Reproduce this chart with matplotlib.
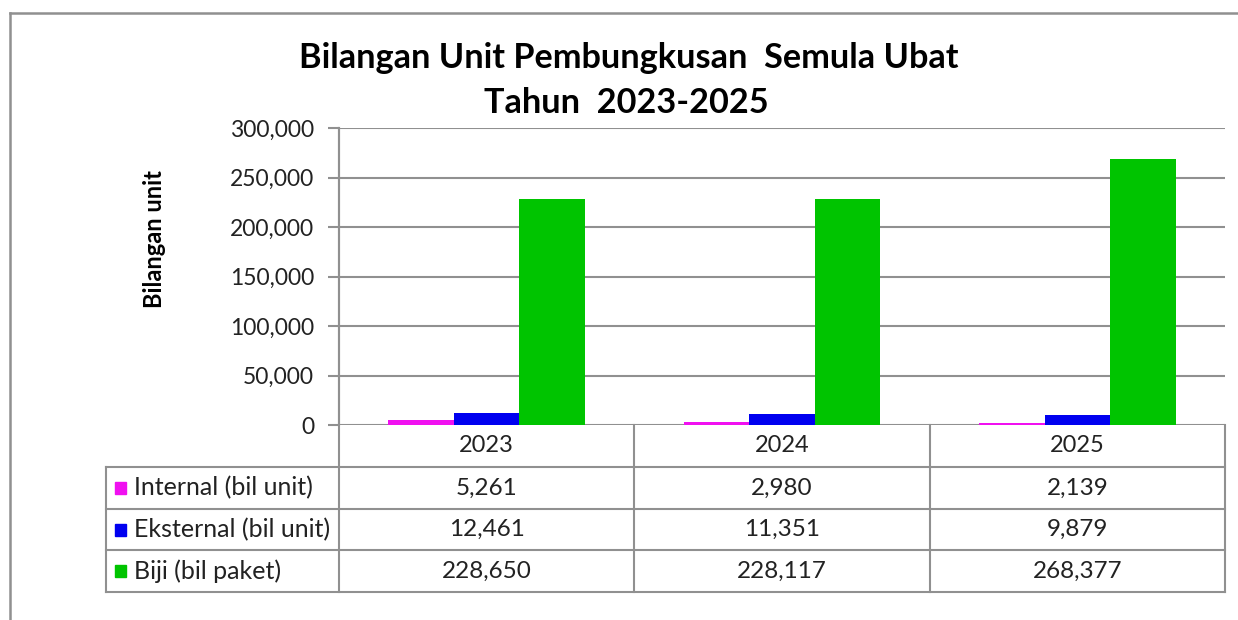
import numpy as np
import matplotlib.pyplot as plt
from matplotlib.transforms import blended_transform_factory

years = ["2023", "2024", "2025"]
series = ["Internal (bil unit)", "Eksternal (bil unit)", "Biji (bil paket)"]
internal = [5261, 2980, 2139]
eksternal = [12461, 11351, 9879]
biji = [228650, 228117, 268377]
colors = ["#f010f0", "#0000f0", "#00c400"]
yticks = [0, 50000, 100000, 150000, 200000, 250000, 300000]

plt.rcParams["font.family"] = ["Lato", "DejaVu Sans"]
W, H = 1238, 620
fig = plt.figure(figsize=(W / 100, H / 100), dpi=100)

# background layer in pixel coords (frame + table)
bg = fig.add_axes([0, 0, 1, 1])
bg.set_xlim(0, W)
bg.set_ylim(H, 0)
bg.axis("off")

gray = "#909090"
bg.plot([10, W], [13, 13], color=gray, lw=1.8)
bg.plot([10, 10], [13, H], color=gray, lw=1.8)

# plot area
x0, x1, ytop, ybot = 339, 1225, 128, 425
ax = fig.add_axes([x0 / W, 1 - ybot / H, (x1 - x0) / W, (ybot - ytop) / H])
ax.patch.set_alpha(0)

x = np.arange(len(years))
w = 0.222
for i, vals in enumerate([internal, eksternal, biji]):
    ax.bar(x + (i - 1) * w, vals, width=w, color=colors[i], zorder=3)

ax.set_xlim(-0.5, len(years) - 0.5)
ax.set_ylim(0, 300000)
ax.set_yticks(yticks)
ax.set_yticklabels([f"{v:,}" for v in yticks], fontsize=16.5, color="#222222")
ax.set_xticks([])
ax.grid(axis="y", color=gray, lw=1.5, zorder=0)
for s in ["top", "right", "bottom"]:
    ax.spines[s].set_visible(False)
ax.spines["left"].set_color(gray)
ax.spines["left"].set_linewidth(1.5)
ax.tick_params(axis="y", length=8, width=1.5, color=gray, pad=10)

fig.text(155 / W, 1 - 239 / H, "Bilangan unit", rotation=90, fontsize=17,
         fontweight="bold", ha="center", va="center")
fig.text(629 / W, 1 - 58 / H, "Bilangan Unit Pembungkusan  Semula Ubat",
         fontsize=24.7, fontweight="bold", ha="center", va="center")
fig.text(626 / W, 1 - 103 / H, "Tahun  2023-2025",
         fontsize=24.7, fontweight="bold", ha="center", va="center")

# data table under the chart
tr = blended_transform_factory(ax.transData, bg.transData)
rows_y = [425, 467, 509, 550, 592]
left = 106
bounds = np.append(x - 0.5, x[-1] + 0.5)
for yy in rows_y[1:]:
    bg.plot([left, x1], [yy, yy], color=gray, lw=1.5, clip_on=False)
bg.plot([left, left], [rows_y[1], rows_y[-1]], color=gray, lw=1.5)
for b in bounds:
    top = ytop if b == bounds[0] else rows_y[0]
    bg.plot([b, b], [top, rows_y[-1]], color=gray, lw=1.5, transform=tr, clip_on=False)

for j, yr in enumerate(years):
    bg.text(x[j], (rows_y[0] + rows_y[1]) / 2, yr, transform=tr, ha="center",
            va="center", fontsize=17, color="#222222", clip_on=False)
for i, (name, vals) in enumerate(zip(series, [internal, eksternal, biji])):
    yc = (rows_y[i + 1] + rows_y[i + 2]) / 2
    bg.add_patch(plt.Rectangle((115, yc - 6), 11, 12, color=colors[i]))
    bg.text(134, yc, name, ha="left", va="center", fontsize=18, color="#222222")
    for j, v in enumerate(vals):
        bg.text(x[j], yc, f"{v:,}", transform=tr, ha="center", va="center",
                fontsize=17.5, color="#222222", clip_on=False)

fig.savefig("out.png", dpi=100)
